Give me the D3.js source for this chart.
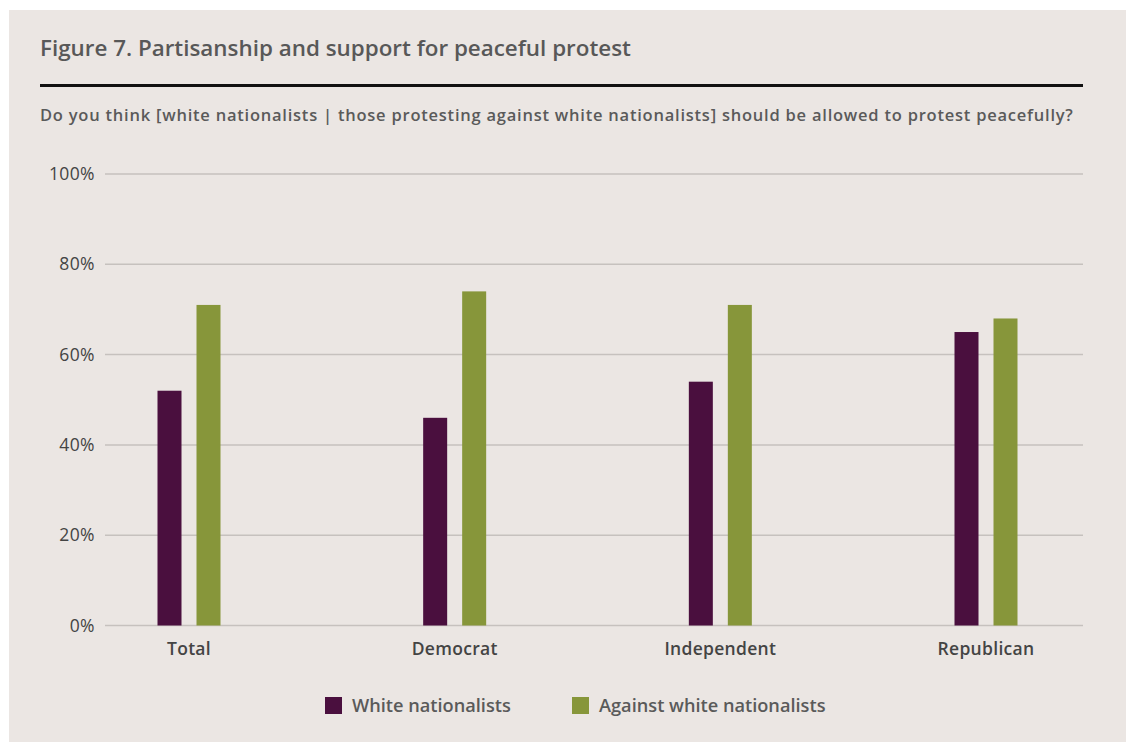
<!DOCTYPE html>
<html>
<head>
<meta charset="utf-8">
<script src="https://cdn.jsdelivr.net/npm/d3@7"></script>
<style>
  html, body { margin: 0; padding: 0; background: #ffffff; }
  svg { display: block; }
  text { font-family: "Open Sans", "Noto Sans", sans-serif; }
</style>
</head>
<body>
<div id="chart"></div>
<script>
// data
const categories = ["Total", "Democrat", "Independent", "Republican"];
const seriesNames = ["White nationalists", "Against white nationalists"];
const whiteNationalists = [52, 46, 54, 65];
const againstWhiteNationalists = [71, 74, 71, 68];
const yTicks = [0, 20, 40, 60, 80, 100];

const colors = ["#4a0f3e", "#87963a"];

const W = 1126, H = 742;
const plot = { left: 105, right: 1083, top: 174, bottom: 625.5 };

const svg = d3.select("#chart").append("svg")
    .attr("width", W)
    .attr("height", H);

// card background
svg.append("rect")
    .attr("x", 9).attr("y", 10)
    .attr("width", W - 9).attr("height", H - 10)
    .attr("fill", "#ebe6e3");

// title + rule + subtitle
svg.append("text")
    .attr("x", 40).attr("y", 56)
    .attr("font-size", 22.4)
    .attr("font-weight", 600)
    .attr("fill", "#585858")
    .text("Figure 7. Partisanship and support for peaceful protest");

svg.append("line")
    .attr("x1", 40).attr("x2", 1083)
    .attr("y1", 85.5).attr("y2", 85.5)
    .attr("stroke", "#111")
    .attr("stroke-width", 3);

svg.append("text")
    .attr("x", 40).attr("y", 121)
    .attr("font-size", 16.5)
    .attr("font-weight", 600)
    .attr("letter-spacing", 0.77)
    .attr("fill", "#5a5a5a")
    .text("Do you think [white nationalists | those protesting against white nationalists] should be allowed to protest peacefully?");

// scales
const y = d3.scaleLinear()
    .domain([0, 100])
    .range([plot.bottom, plot.top]);

const x = d3.scalePoint()
    .domain(categories)
    .range([189, 986]);

const barW = 24, gap = 15;

// gridlines
svg.append("g")
    .selectAll("line")
    .data(yTicks)
    .join("line")
    .attr("x1", plot.left).attr("x2", plot.right)
    .attr("y1", d => y(d)).attr("y2", d => y(d))
    .attr("stroke", "#c6c1be")
    .attr("stroke-width", 1.5);

// y tick labels
svg.append("g")
    .selectAll("text")
    .data(yTicks)
    .join("text")
    .attr("x", 95)
    .attr("y", d => y(d))
    .attr("dy", "0.35em")
    .attr("text-anchor", "end")
    .attr("font-size", 17.5)
    .attr("letter-spacing", 0.4)
    .attr("fill", "#444")
    .text(d => d + "%");

// bars
const rows = categories.map((c, i) => ({
    category: c,
    values: [whiteNationalists[i], againstWhiteNationalists[i]]
}));

const groups = svg.append("g")
    .selectAll("g")
    .data(rows)
    .join("g")
    .attr("transform", d => `translate(${x(d.category)},0)`);

groups.selectAll("rect")
    .data(d => d.values.map((v, j) => ({ series: seriesNames[j], value: v, j })))
    .join("rect")
    .attr("x", d => d.j === 0 ? -(gap / 2 + barW) : gap / 2)
    .attr("width", barW)
    .attr("y", d => y(d.value))
    .attr("height", d => y(0) - y(d.value))
    .attr("fill", d => colors[d.j]);

// x labels
svg.append("g")
    .selectAll("text")
    .data(categories)
    .join("text")
    .attr("x", d => x(d))
    .attr("y", 655)
    .attr("text-anchor", "middle")
    .attr("font-size", 17.5)
    .attr("font-weight", 600)
    .attr("letter-spacing", 0.3)
    .attr("fill", "#444")
    .text(d => d);

// legend
const legendX = [325, 572];
const legend = svg.append("g")
    .selectAll("g")
    .data(seriesNames)
    .join("g")
    .attr("transform", (d, i) => `translate(${legendX[i]},697)`);

legend.append("rect")
    .attr("width", 17).attr("height", 17)
    .attr("fill", (d, i) => colors[i]);

legend.append("text")
    .attr("x", 27).attr("y", 8.5)
    .attr("dy", "0.35em")
    .attr("font-size", 18.2)
    .attr("font-weight", 600)
    .attr("fill", "#5a5a5a")
    .text(d => d);
</script>
</body>
</html>
